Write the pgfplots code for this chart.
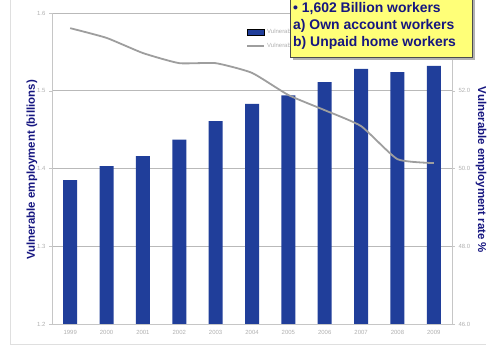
\documentclass[border=0pt]{standalone}
\usepackage{fontspec}
\setmainfont{Liberation Sans}
\usepackage{pgfplots}
\pgfplotsset{compat=1.18}
\definecolor{barblue}{RGB}{32,62,154}
\definecolor{navytext}{RGB}{22,22,128}
\definecolor{linegray}{RGB}{158,158,158}
\definecolor{boxyellow}{RGB}{255,255,120}
\definecolor{ticktext}{RGB}{175,175,175}
\begin{document}
\begin{tikzpicture}
\path[use as bounding box] (0,0) rectangle (494bp,346bp);
% outer frame
\draw[gray!25, line width=0.8bp] (10bp,346bp) -- (10bp,2bp) -- (486bp,2bp);
\begin{axis}[
  at={(52bp,22bp)}, anchor=south west, scale only axis,
  width=400bp, height=311bp,
  xmin=-0.5, xmax=10.5, ymin=1.2, ymax=1.6,
  xtick={0,...,10},
  xticklabels={1999,2000,2001,2002,2003,2004,2005,2006,2007,2008,2009},
  ytick={1.2,1.3,1.4,1.5,1.6},
  yticklabel style={/pgf/number format/.cd, fixed, fixed zerofill, precision=1},
  /pgf/number format/assume math mode=true,
  tick label style={font=\fontsize{6}{6}\selectfont, text=ticktext},
  axis line style={gray!45},
  tick style={gray!45},
  tick align=outside, major tick length=3bp,
  xtick style={draw=none},
  ymajorgrids, grid style={gray!55, line width=0.6bp},
  axis y line*=left, axis x line*=bottom,
  ybar, bar width=14bp, bar shift=0pt,
]
\addplot[fill=barblue, draw=none] coordinates {
 (0,1.385) (1,1.403) (2,1.416) (3,1.437) (4,1.461) (5,1.483)
 (6,1.494) (7,1.511) (8,1.528) (9,1.524) (10,1.532)};
\end{axis}
\begin{axis}[
  at={(52bp,22bp)}, anchor=south west, scale only axis,
  width=400bp, height=311bp,
  xmin=-0.5, xmax=10.5, ymin=46, ymax=54,
  axis x line=none, axis y line*=right,
  ytick={46,48,50,52,54},
  yticklabel style={/pgf/number format/.cd, fixed, fixed zerofill, precision=1},
  /pgf/number format/assume math mode=true,
  tick label style={font=\fontsize{6}{6}\selectfont, text=ticktext},
  axis line style={gray!45},
  tick style={gray!45},
  tick align=outside, major tick length=3bp,
  legend style={at={(0.478,0.962)}, anchor=north west, draw=none, fill=none,
    font=\fontsize{6}{7}\selectfont, text=ticktext, row sep=4bp},
  legend cell align=left,
]
\addlegendimage{area legend, fill=barblue, draw=none}
\addlegendentry{Vulnerable employment}
\addplot[linegray, line width=1.8bp, smooth, tension=0.3] coordinates {
 (0,53.61) (1,53.36) (2,52.97) (3,52.71) (4,52.71) (5,52.46)
 (6,51.89) (7,51.50) (8,51.09) (9,50.24) (10,50.14)};
\addlegendentry{Vulnerable employment rate}
\end{axis}
% yellow box
\fill[gray!60] (293bp,286bp) rectangle (475bp,350bp);
\draw[black!70, fill=boxyellow, line width=0.6bp] (290bp,289bp) rectangle (472bp,350bp);
\node[anchor=north west, align=left, text=navytext, font=\bfseries\fontsize{14}{17}\selectfont, inner sep=0pt]
  at (293bp,344bp) {\textbullet\ 1,602 Billion workers\\a) Own account workers\\b) Unpaid home workers};
% axis titles
\node[rotate=90, text=navytext, font=\bfseries\fontsize{11.5}{12}\selectfont] at (32bp,176bp) {Vulnerable employment (billions)};
\node[rotate=-90, text=navytext, font=\bfseries\fontsize{11.5}{12}\selectfont] at (481bp,176bp) {Vulnerable employment rate \%};
\end{tikzpicture}
\end{document}
